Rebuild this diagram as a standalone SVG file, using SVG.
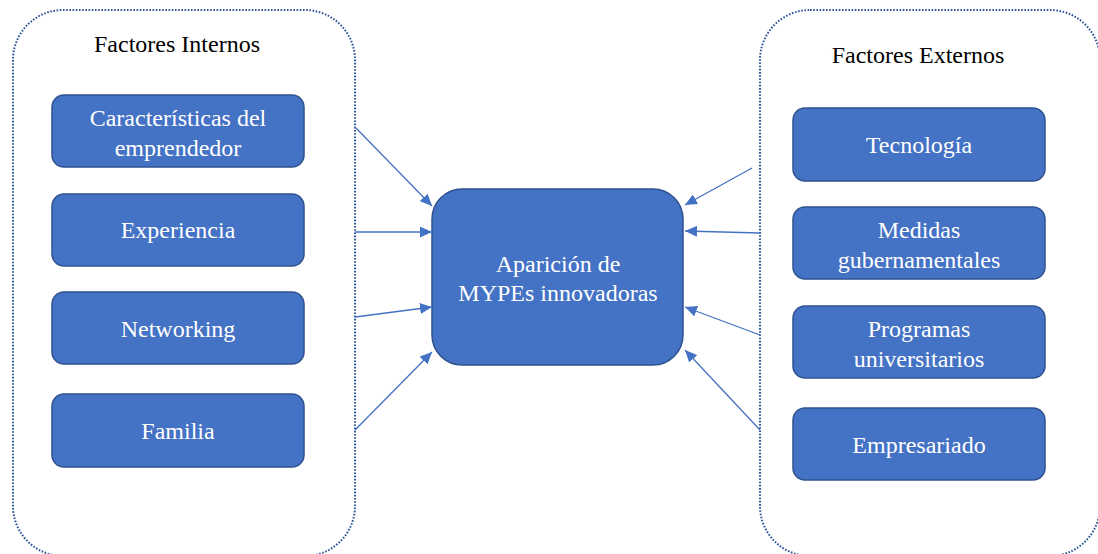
<svg xmlns="http://www.w3.org/2000/svg" width="1098" height="554" viewBox="0 0 1098 554">
  <defs>
    <style>
      .frame { fill: none; stroke: #2F5597; stroke-width: 2; stroke-dasharray: 1.6 1.6; }
      .box { fill: #4472C4; stroke: #2F528F; stroke-width: 1.5; }
      .conn { stroke: #4472C4; stroke-width: 1.3; fill: none; marker-end: url(#arrow); }
    </style>
    <marker id="arrow" viewBox="0 0 12 11" refX="12" refY="5.5" markerWidth="12" markerHeight="11" markerUnits="userSpaceOnUse" orient="auto">
      <path d="M0,0 L12,5.5 L0,11 Z" fill="#4472C4"/>
    </marker>
  </defs>
  <rect width="1098" height="554" fill="#FFFFFF"/>

  <!-- Internal factors group -->
  <g id="internos">
    <rect class="frame" x="13" y="10" width="342" height="546" rx="50" ry="50"/>
    <text x="177" y="52" font-family="Liberation Serif" font-size="24" text-anchor="middle" fill="#000000">Factores Internos</text>
  </g>
  <g id="caracteristicas">
    <rect class="box" x="52" y="95" width="252" height="72" rx="12" ry="12"/>
    <text x="178" y="126" font-family="Liberation Serif" font-size="24" text-anchor="middle" fill="#FFFFFF">Características del</text>
    <text x="178" y="156" font-family="Liberation Serif" font-size="24" text-anchor="middle" fill="#FFFFFF">emprendedor</text>
  </g>
  <g id="experiencia">
    <rect class="box" x="52" y="194" width="252" height="72" rx="12" ry="12"/>
    <text x="178" y="238" font-family="Liberation Serif" font-size="24" text-anchor="middle" fill="#FFFFFF">Experiencia</text>
  </g>
  <g id="networking">
    <rect class="box" x="52" y="292" width="252" height="72" rx="12" ry="12"/>
    <text x="178" y="337" font-family="Liberation Serif" font-size="24" text-anchor="middle" fill="#FFFFFF">Networking</text>
  </g>
  <g id="familia">
    <rect class="box" x="52" y="394" width="252" height="73" rx="12" ry="12"/>
    <text x="178" y="439" font-family="Liberation Serif" font-size="24" text-anchor="middle" fill="#FFFFFF">Familia</text>
  </g>

  <!-- External factors group -->
  <g id="externos">
    <rect class="frame" x="760" y="10" width="340" height="546" rx="50" ry="50"/>
    <text x="918" y="63" font-family="Liberation Serif" font-size="24" text-anchor="middle" fill="#000000">Factores Externos</text>
  </g>
  <g id="tecnologia">
    <rect class="box" x="793" y="108" width="252" height="73" rx="12" ry="12"/>
    <text x="919" y="153" font-family="Liberation Serif" font-size="24" text-anchor="middle" fill="#FFFFFF">Tecnología</text>
  </g>
  <g id="medidas">
    <rect class="box" x="793" y="207" width="252" height="72" rx="12" ry="12"/>
    <text x="919" y="238" font-family="Liberation Serif" font-size="24" text-anchor="middle" fill="#FFFFFF">Medidas</text>
    <text x="919" y="268" font-family="Liberation Serif" font-size="24" text-anchor="middle" fill="#FFFFFF">gubernamentales</text>
  </g>
  <g id="programas">
    <rect class="box" x="793" y="306" width="252" height="72" rx="12" ry="12"/>
    <text x="919" y="337" font-family="Liberation Serif" font-size="24" text-anchor="middle" fill="#FFFFFF">Programas</text>
    <text x="919" y="367" font-family="Liberation Serif" font-size="24" text-anchor="middle" fill="#FFFFFF">universitarios</text>
  </g>
  <g id="empresariado">
    <rect class="box" x="793" y="408" width="252" height="72" rx="12" ry="12"/>
    <text x="919" y="453" font-family="Liberation Serif" font-size="24" text-anchor="middle" fill="#FFFFFF">Empresariado</text>
  </g>

  <!-- Central outcome -->
  <g id="aparicion">
    <rect class="box" x="432" y="189" width="251" height="176" rx="30" ry="30"/>
    <text x="558" y="272" font-family="Liberation Serif" font-size="24" text-anchor="middle" fill="#FFFFFF">Aparición de</text>
    <text x="558" y="301" font-family="Liberation Serif" font-size="24" text-anchor="middle" fill="#FFFFFF">MYPEs innovadoras</text>
  </g>

  <!-- Connectors -->
  <g id="connectors">
    <line class="conn" x1="355" y1="127" x2="432" y2="206"/>
    <line class="conn" x1="355" y1="232" x2="432" y2="232"/>
    <line class="conn" x1="355" y1="317" x2="432" y2="307"/>
    <line class="conn" x1="355" y1="430" x2="432" y2="352"/>
    <line class="conn" x1="752" y1="168" x2="685" y2="205"/>
    <line class="conn" x1="760" y1="233" x2="685" y2="231"/>
    <line class="conn" x1="760" y1="335" x2="685" y2="307"/>
    <line class="conn" x1="760" y1="430" x2="685" y2="350"/>
  </g>
</svg>
